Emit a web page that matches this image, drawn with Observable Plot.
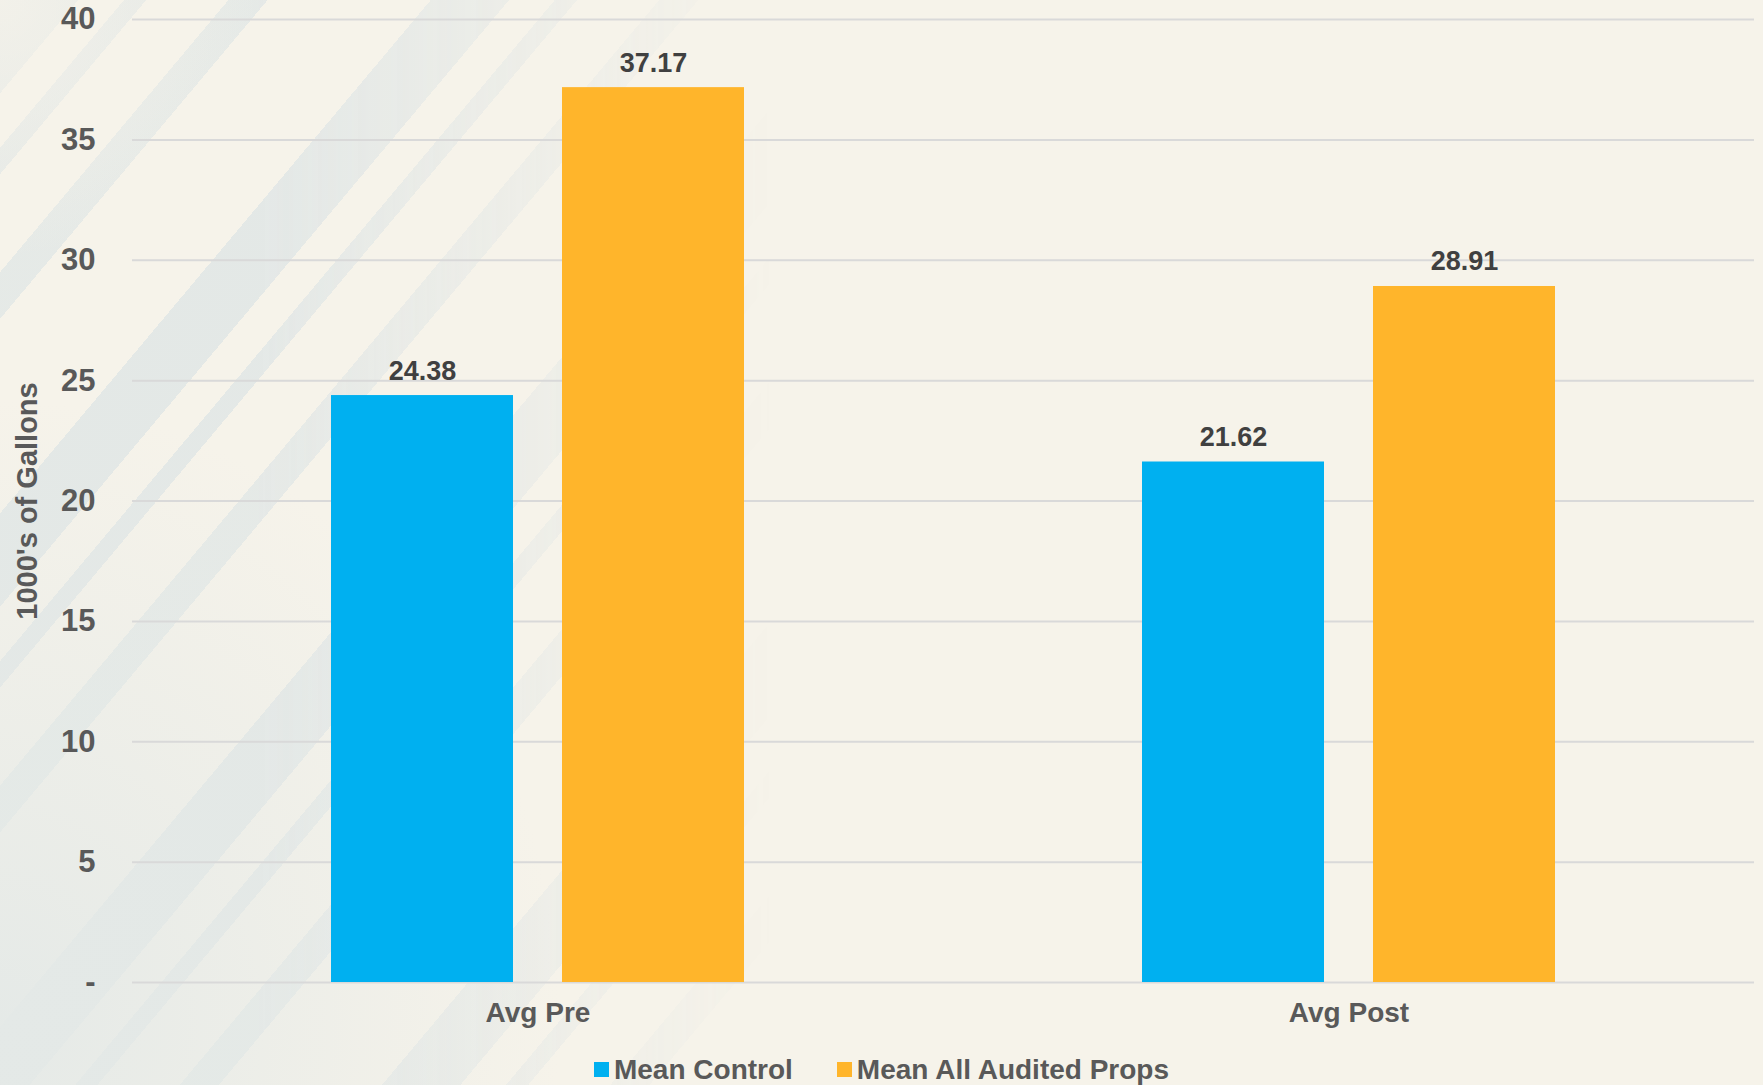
<!DOCTYPE html>
<html>
<head>
<meta charset="utf-8">
<script src="https://cdn.jsdelivr.net/npm/d3@7"></script>
<script src="https://cdn.jsdelivr.net/npm/@observablehq/plot@0.6"></script>
<style>
  html, body { margin: 0; padding: 0; }
  body {
    width: 1763px; height: 1085px; overflow: hidden; position: relative;
    background: #f6f3ea;
    font-family: "Liberation Sans", Arial, sans-serif;
  }
  #bg {
    position: absolute; left: 0; top: 0; width: 860px; height: 1085px;
    background:
      repeating-linear-gradient(130deg,
        rgba(226,231,230,0.95) 0px, rgba(226,231,230,0.95) 60px,
        rgba(246,243,234,0) 60px, rgba(246,243,234,0) 95px,
        rgba(226,231,230,0.9) 95px, rgba(226,231,230,0.9) 112px,
        rgba(246,243,234,0) 112px, rgba(246,243,234,0) 175px,
        rgba(226,231,230,0.85) 175px, rgba(226,231,230,0.85) 205px,
        rgba(246,243,234,0) 205px, rgba(246,243,234,0) 330px);
    -webkit-mask-image: linear-gradient(to right, #000 0%, #000 30%, transparent 90%);
    mask-image: linear-gradient(to right, #000 0%, #000 30%, transparent 90%);
  }
  #bg2 {
    position: absolute; left: 0; top: 0; width: 1763px; height: 1085px;
    background:
      radial-gradient(ellipse 560px 620px at 0px 1020px, rgba(228,233,231,0.95), rgba(228,233,231,0) 100%),
      radial-gradient(ellipse 260px 260px at 0px 0px, rgba(246,243,234,0.8), rgba(246,243,234,0) 100%);
  }
  #chart { position: absolute; left: 0; top: 0; }
  #legend {
    position: absolute; left: 0; top: 1040px; width: 1763px; height: 45px;
    display: flex; justify-content: center; align-items: center; padding-top: 14px; box-sizing: border-box;
    font-size: 28px; font-weight: bold; color: #595959;
  }
  .item { display: flex; align-items: center; margin: 0 22px; }
  .sw { width: 15px; height: 15px; margin-right: 5px; display: inline-block; }
</style>
</head>
<body>
<div id="bg"></div>
<div id="bg2"></div>
<div id="chart"></div>
<div id="legend"></div>
<script>
const categories = ["Avg Pre", "Avg Post"];
const seriesNames = ["Mean Control", "Mean All Audited Props"];
const meanControl = [24.38, 21.62];
const meanAudited = [37.17, 28.91];
const yTicks = [0, 5, 10, 15, 20, 25, 30, 35, 40];
const seriesColors = ["#00B0F0", "#FFB52B"];

const data = categories.flatMap((c, i) => [
  {category: c, series: seriesNames[0], value: meanControl[i]},
  {category: c, series: seriesNames[1], value: meanAudited[i]}
]);

const chart = Plot.plot({
  width: 1763,
  height: 1040,
  marginTop: 19,
  marginBottom: 58,
  marginLeft: 131,
  marginRight: 9,
  style: {background: "transparent", fontFamily: "'Liberation Sans', Arial, sans-serif"},
  fx: {domain: categories, paddingInner: 0, paddingOuter: 0, label: null},
  x: {domain: seriesNames, paddingInner: 0.212, paddingOuter: 0.861, axis: null},
  y: {domain: [0, 40]},
  color: {domain: seriesNames, range: seriesColors},
  marks: [
    Plot.gridY(yTicks, {stroke: "#d9d9d9", strokeOpacity: 1, strokeWidth: 2}),
    Plot.barY(data, {fx: "category", x: "series", y: "value", fill: "series"}),
    Plot.text(data, {
      fx: "category", x: "series", y: "value",
      text: d => d.value.toFixed(2),
      lineAnchor: "bottom", dy: -16,
      fontSize: 27, fontWeight: "bold", fill: "#404040"
    }),
    Plot.axisY(yTicks, {
      tickSize: 0, tickPadding: 37,
      tickFormat: d => d === 0 ? "-" : String(d),
      fontSize: 31, fontWeight: "bold", color: "#595959", label: null
    }),
    Plot.axisY([], {
      tickSize: 0, label: "1000's of Gallons", labelAnchor: "center", labelArrow: "none", labelOffset: 116,
      fontSize: 29, fontWeight: "bold", color: "#595959"
    }),
    Plot.axisFx({
      anchor: "bottom", tickSize: 0, tickPadding: 20,
      fontSize: 28, fontWeight: "bold", color: "#595959", label: null
    })
  ]
});
document.getElementById("chart").appendChild(chart);

const legend = document.getElementById("legend");
seriesNames.forEach((name, i) => {
  const item = document.createElement("div");
  item.className = "item";
  const sw = document.createElement("span");
  sw.className = "sw";
  sw.style.background = seriesColors[i];
  const label = document.createElement("span");
  label.textContent = name;
  item.appendChild(sw);
  item.appendChild(label);
  legend.appendChild(item);
});
</script>
</body>
</html>
